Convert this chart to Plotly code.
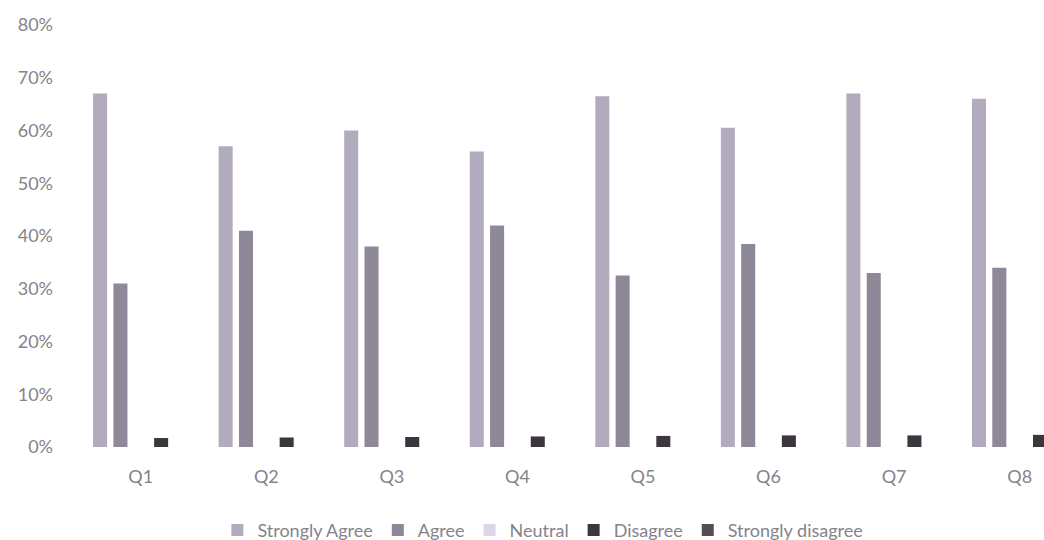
import plotly.graph_objects as go

categories = ["Q1", "Q2", "Q3", "Q4", "Q5", "Q6", "Q7", "Q8"]
strongly_agree = [0.67, 0.57, 0.60, 0.56, 0.665, 0.605, 0.67, 0.66]
agree = [0.31, 0.41, 0.38, 0.42, 0.325, 0.385, 0.33, 0.34]
neutral = [0, 0, 0, 0, 0, 0, 0, 0]
disagree = [0.017, 0.018, 0.019, 0.020, 0.021, 0.022, 0.022, 0.023]
strongly_disagree = [0, 0, 0, 0, 0, 0, 0, 0]

series = [
    ("Strongly Agree", strongly_agree, "#b2abbd"),
    ("Agree", agree, "#8f8899"),
    ("Neutral", neutral, "#dcd6e6"),
    ("Disagree", disagree, "#3c363f"),
    ("Strongly disagree", strongly_disagree, "#554c57"),
]

fig = go.Figure()
for name, vals, col in series:
    fig.add_trace(go.Bar(x=categories, y=vals, name=name, marker_color=col,
                         marker_line_width=0))

font_family = "Lato, 'Open Sans', sans-serif"
text_col = "#85838a"

fig.update_layout(
    width=1044, height=540,
    margin=dict(l=78, r=0, t=25, b=93),
    paper_bgcolor="white", plot_bgcolor="white",
    barmode="group", bargap=0.19, bargroupgap=0.31,
    font=dict(family=font_family, size=18, color=text_col),
    legend=dict(orientation="h", xref="container", x=0.52, xanchor="center",
                yref="container", y=0.018, yanchor="middle",
                font=dict(size=18, color=text_col),
                itemwidth=30, traceorder="normal"),
    showlegend=True,
)
fig.update_xaxes(range=[-0.5, 7.194], showline=False, showgrid=False,
                 ticks="", ticklabelstandoff=17, automargin=False,
                 tickfont=dict(size=18, color=text_col))
fig.update_yaxes(range=[0, 0.8], tickformat=".0%", dtick=0.1, showgrid=False,
                 zeroline=False, showline=False, ticks="", ticklabelstandoff=24,
                 automargin=False,
                 tickfont=dict(size=18, color=text_col))

fig.write_html("out.html")
